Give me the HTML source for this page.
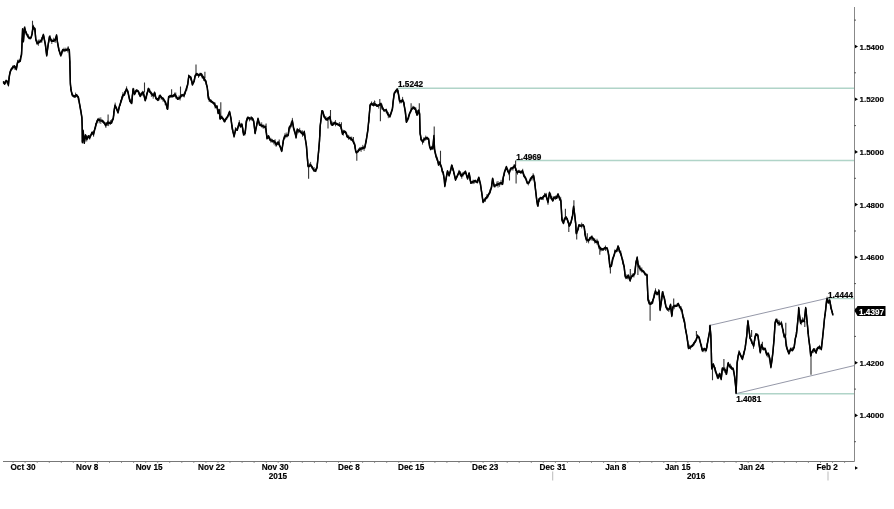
<!DOCTYPE html>
<html><head><meta charset="utf-8"><style>
html,body{margin:0;padding:0;background:#fff;width:894px;height:509px;overflow:hidden}
svg{display:block;will-change:transform}
.yl{font-family:"Liberation Sans",sans-serif;font-size:8px;font-weight:bold;fill:#000;stroke:#000;stroke-width:0.15}
.xl{font-family:"Liberation Sans",sans-serif;font-size:8.2px;font-weight:bold;fill:#000;stroke:#000;stroke-width:0.15}
.an{font-family:"Liberation Sans",sans-serif;font-size:8.2px;font-weight:bold;fill:#000;stroke:#000;stroke-width:0.2}
</style></head><body>
<svg width="894" height="509" viewBox="0 0 894 509">
<rect width="894" height="509" fill="#fff"/>
<!-- axes -->
<rect x="854" y="7" width="1" height="454.5" fill="#888"/>
<rect x="3" y="461" width="851.5" height="1" fill="#777"/>
<path d="M855 44.7 L858 46.5 L855 48.3Z" fill="#000"/><path d="M855 97.4 L858 99.2 L855 101.0Z" fill="#000"/><path d="M855 150.1 L858 151.9 L855 153.7Z" fill="#000"/><path d="M855 202.8 L858 204.6 L855 206.4Z" fill="#000"/><path d="M855 255.5 L858 257.3 L855 259.1Z" fill="#000"/><path d="M855 308.2 L858 310.0 L855 311.8Z" fill="#000"/><path d="M855 360.9 L858 362.7 L855 364.5Z" fill="#000"/><path d="M855 413.6 L858 415.4 L855 417.2Z" fill="#000"/><rect x="854" y="19.6" width="2" height="1" fill="#555"/><rect x="854" y="72.3" width="2" height="1" fill="#555"/><rect x="854" y="125.1" width="2" height="1" fill="#555"/><rect x="854" y="177.8" width="2" height="1" fill="#555"/><rect x="854" y="230.5" width="2" height="1" fill="#555"/><rect x="854" y="283.1" width="2" height="1" fill="#555"/><rect x="854" y="335.9" width="2" height="1" fill="#555"/><rect x="854" y="388.6" width="2" height="1" fill="#555"/><rect x="854" y="441.2" width="2" height="1" fill="#555"/>
<text x="859.5" y="49.5" class="yl">1.5400</text><text x="859.5" y="102.2" class="yl">1.5200</text><text x="859.5" y="154.9" class="yl">1.5000</text><text x="859.5" y="207.6" class="yl">1.4800</text><text x="859.5" y="260.3" class="yl">1.4600</text><text x="859.5" y="365.7" class="yl">1.4200</text><text x="859.5" y="418.4" class="yl">1.4000</text>
<text x="10.5" y="470" class="xl">Oct 30</text><text x="76.0" y="470" class="xl">Nov 8</text><text x="135.7" y="470" class="xl">Nov 15</text><text x="198.0" y="470" class="xl">Nov 22</text><text x="261.7" y="470" class="xl">Nov 30</text><text x="338.0" y="470" class="xl">Dec 8</text><text x="398.0" y="470" class="xl">Dec 15</text><text x="472.0" y="470" class="xl">Dec 23</text><text x="539.6" y="470" class="xl">Dec 31</text><text x="605.3" y="470" class="xl">Jan 8</text><text x="665.0" y="470" class="xl">Jan 15</text><text x="738.8" y="470" class="xl">Jan 24</text><text x="816.4" y="470" class="xl">Feb 2</text><text x="268.8" y="479" class="xl">2015</text><text x="687" y="479" class="xl">2016</text>
<rect x="12.6" y="462" width="1" height="1" fill="#999"/><rect x="24.6" y="462" width="1" height="1" fill="#999"/><rect x="36.7" y="462" width="1" height="1" fill="#999"/><rect x="48.8" y="462" width="1" height="1" fill="#999"/><rect x="60.8" y="462" width="1" height="1" fill="#999"/><rect x="72.8" y="462" width="1" height="1" fill="#999"/><rect x="84.9" y="462" width="1" height="1" fill="#999"/><rect x="97.0" y="462" width="1" height="1" fill="#999"/><rect x="109.0" y="462" width="1" height="1" fill="#999"/><rect x="121.0" y="462" width="1" height="1" fill="#999"/><rect x="133.1" y="462" width="1" height="1" fill="#999"/><rect x="145.2" y="462" width="1" height="1" fill="#999"/><rect x="157.2" y="462" width="1" height="1" fill="#999"/><rect x="169.2" y="462" width="1" height="1" fill="#999"/><rect x="181.3" y="462" width="1" height="1" fill="#999"/><rect x="193.3" y="462" width="1" height="1" fill="#999"/><rect x="205.4" y="462" width="1" height="1" fill="#999"/><rect x="217.5" y="462" width="1" height="1" fill="#999"/><rect x="229.5" y="462" width="1" height="1" fill="#999"/><rect x="241.6" y="462" width="1" height="1" fill="#999"/><rect x="253.6" y="462" width="1" height="1" fill="#999"/><rect x="265.7" y="462" width="1" height="1" fill="#999"/><rect x="277.7" y="462" width="1" height="1" fill="#999"/><rect x="289.8" y="462" width="1" height="1" fill="#999"/><rect x="301.8" y="462" width="1" height="1" fill="#999"/><rect x="313.9" y="462" width="1" height="1" fill="#999"/><rect x="325.9" y="462" width="1" height="1" fill="#999"/><rect x="338.0" y="462" width="1" height="1" fill="#999"/><rect x="350.0" y="462" width="1" height="1" fill="#999"/><rect x="362.1" y="462" width="1" height="1" fill="#999"/><rect x="374.1" y="462" width="1" height="1" fill="#999"/><rect x="386.2" y="462" width="1" height="1" fill="#999"/><rect x="398.2" y="462" width="1" height="1" fill="#999"/><rect x="410.3" y="462" width="1" height="1" fill="#999"/><rect x="422.3" y="462" width="1" height="1" fill="#999"/><rect x="434.4" y="462" width="1" height="1" fill="#999"/><rect x="446.4" y="462" width="1" height="1" fill="#999"/><rect x="458.5" y="462" width="1" height="1" fill="#999"/><rect x="470.5" y="462" width="1" height="1" fill="#999"/><rect x="482.6" y="462" width="1" height="1" fill="#999"/><rect x="494.6" y="462" width="1" height="1" fill="#999"/><rect x="506.7" y="462" width="1" height="1" fill="#999"/><rect x="518.7" y="462" width="1" height="1" fill="#999"/><rect x="530.8" y="462" width="1" height="1" fill="#999"/><rect x="542.8" y="462" width="1" height="1" fill="#999"/><rect x="554.9" y="462" width="1" height="1" fill="#999"/><rect x="566.9" y="462" width="1" height="1" fill="#999"/><rect x="579.0" y="462" width="1" height="1" fill="#999"/><rect x="591.0" y="462" width="1" height="1" fill="#999"/><rect x="603.1" y="462" width="1" height="1" fill="#999"/><rect x="615.1" y="462" width="1" height="1" fill="#999"/><rect x="627.2" y="462" width="1" height="1" fill="#999"/><rect x="639.2" y="462" width="1" height="1" fill="#999"/><rect x="651.3" y="462" width="1" height="1" fill="#999"/><rect x="663.3" y="462" width="1" height="1" fill="#999"/><rect x="675.4" y="462" width="1" height="1" fill="#999"/><rect x="687.4" y="462" width="1" height="1" fill="#999"/><rect x="699.5" y="462" width="1" height="1" fill="#999"/><rect x="711.5" y="462" width="1" height="1" fill="#999"/><rect x="723.6" y="462" width="1" height="1" fill="#999"/><rect x="735.6" y="462" width="1" height="1" fill="#999"/><rect x="747.7" y="462" width="1" height="1" fill="#999"/><rect x="759.7" y="462" width="1" height="1" fill="#999"/><rect x="771.8" y="462" width="1" height="1" fill="#999"/><rect x="783.8" y="462" width="1" height="1" fill="#999"/><rect x="795.9" y="462" width="1" height="1" fill="#999"/><rect x="807.9" y="462" width="1" height="1" fill="#999"/><rect x="820.0" y="462" width="1" height="1" fill="#999"/><rect x="832.0" y="462" width="1" height="1" fill="#999"/><rect x="844.1" y="462" width="1" height="1" fill="#999"/>
<rect x="552.2" y="471.5" width="1" height="9" fill="#bbb"/>
<rect x="827.5" y="471.5" width="1" height="9" fill="#bbb"/>
<path d="M855 466.3 L858 468 L855 469.7Z" fill="#000"/>
<!-- annotations -->
<line x1="398" y1="88.2" x2="854" y2="88.2" stroke="#b0d4c8" stroke-width="1.4"/>
<line x1="516" y1="160.5" x2="854" y2="160.5" stroke="#b0d4c8" stroke-width="1.4"/>
<line x1="736" y1="393.8" x2="854" y2="393.8" stroke="#b0d4c8" stroke-width="1.4"/>
<line x1="828" y1="298.5" x2="854" y2="298.5" stroke="#b0d4c8" stroke-width="1.4"/>
<line x1="709.4" y1="325.5" x2="827.7" y2="298.2" stroke="#9598a8" stroke-width="1"/>
<line x1="709.4" y1="325.5" x2="709.4" y2="332" stroke="#9598a8" stroke-width="1"/>
<line x1="735.4" y1="393.8" x2="854" y2="365.6" stroke="#9598a8" stroke-width="1"/>
<text x="398" y="87" class="an">1.5242</text>
<text x="516.3" y="160" class="an">1.4969</text>
<text x="736.2" y="401.8" class="an">1.4081</text>
<text x="828" y="298" class="an">1.4444</text>
<!-- price -->
<path d="M4.0 81.5V83.9 M5.8 80.8V83.5 M7.2 80.9V83.6 M8.3 82.6V85.1 M9.4 74.4V79.0 M10.5 69.9V73.4 M12.7 65.5V69.3 M14.8 66.1V69.8 M16.2 68.1V69.9 M17.5 59.8V63.7 M19.2 58.8V62.8 M20.9 56.1V57.4 M22.2 37.8V42.0 M23.5 37.6V41.6 M24.9 26.4V31.7 M26.2 30.8V35.0 M28.2 34.1V38.0 M30.4 36.9V39.5 M32.3 31.3V34.1 M33.4 24.8V30.0 M35.1 27.8V32.2 M36.9 40.2V44.6 M38.4 39.6V45.8 M40.0 39.2V42.3 M41.8 37.1V42.9 M43.8 35.6V38.5 M45.6 46.3V48.7 M46.8 53.7V55.2 M48.8 40.3V42.4 M50.2 35.3V39.0 M51.8 38.8V44.0 M53.7 37.7V42.0 M55.2 38.3V42.9 M57.4 40.5V42.5 M58.7 47.5V50.6 M60.4 53.0V54.8 M61.9 50.7V54.5 M64.0 47.7V52.2 M65.8 47.7V50.8 M67.8 46.7V52.5 M69.8 60.5V63.8 M70.9 86.9V90.0 M72.0 92.9V94.9 M73.4 95.3V96.5 M74.6 95.4V97.8 M75.6 92.6V97.9 M76.8 94.2V97.0 M78.2 96.4V100.2 M80.4 106.9V110.7 M81.5 114.6V116.9 M82.9 131.6V135.5 M83.9 135.4V140.7 M85.1 136.0V138.7 M86.7 135.2V141.5 M88.5 135.3V138.1 M89.7 134.9V139.7 M91.7 132.0V134.6 M93.6 130.5V136.8 M95.6 123.2V128.7 M96.9 120.1V123.6 M97.9 118.9V120.8 M99.2 117.6V123.3 M100.8 117.3V123.9 M102.9 120.0V122.7 M104.2 121.8V124.0 M105.9 122.0V128.0 M107.5 120.6V125.8 M108.6 120.6V126.1 M110.5 120.2V124.8 M111.8 119.2V123.4 M113.7 111.2V116.1 M115.2 102.6V108.5 M116.4 107.4V109.2 M118.5 107.5V111.3 M120.5 99.8V105.6 M121.9 96.4V99.4 M122.9 92.1V97.8 M124.6 90.9V95.9 M126.6 86.3V90.3 M127.9 90.5V93.0 M129.6 98.5V101.5 M130.8 98.8V103.4 M132.3 94.8V100.1 M133.8 88.4V93.6 M135.5 90.2V92.8 M137.0 89.6V91.2 M138.9 92.0V94.8 M140.8 92.8V96.4 M142.4 90.8V95.7 M143.6 91.7V95.1 M144.9 96.1V100.8 M146.6 92.7V98.6 M148.1 87.9V92.1 M149.7 88.6V93.0 M151.4 91.7V96.9 M153.2 92.5V98.7 M154.5 91.4V96.7 M156.5 97.9V99.6 M158.0 99.1V101.0 M159.1 95.1V100.4 M161.2 96.2V99.7 M163.0 97.7V101.7 M165.2 100.8V105.2 M166.6 104.1V109.3 M168.6 96.2V98.9 M170.3 94.7V97.3 M171.6 93.6V96.8 M173.3 94.1V96.4 M174.7 92.5V96.8 M175.8 92.5V98.6 M177.9 97.8V99.9 M179.0 95.4V99.5 M180.1 95.6V100.5 M182.1 93.9V96.1 M184.2 92.8V97.5 M185.3 91.2V94.4 M186.8 86.6V90.5 M188.6 74.6V78.2 M190.6 76.7V80.4 M192.2 81.7V85.2 M194.3 79.0V81.1 M195.9 73.7V75.7 M197.1 73.6V75.3 M198.5 73.8V77.9 M199.8 72.8V75.8 M201.3 73.9V75.6 M202.3 73.8V78.6 M203.5 75.7V80.8 M204.6 76.5V81.2 M206.2 80.5V85.0 M207.8 90.4V96.2 M209.2 96.5V102.0 M211.0 99.5V102.7 M212.1 101.1V102.7 M214.0 102.2V104.4 M215.1 102.5V108.5 M216.9 105.2V107.8 M218.2 111.1V113.9 M219.8 114.1V118.7 M221.9 115.5V118.8 M224.1 119.2V122.1 M225.1 118.7V122.2 M226.7 116.8V119.9 M227.7 115.3V117.4 M229.2 112.3V113.4 M230.5 115.2V118.5 M232.2 124.8V129.9 M234.0 132.9V137.6 M235.4 127.1V131.4 M237.3 127.4V130.4 M239.3 120.1V125.5 M241.2 122.8V126.6 M242.8 127.6V132.5 M244.8 130.5V135.6 M246.8 117.6V122.6 M248.1 117.1V118.6 M249.5 117.7V121.4 M251.2 116.0V120.7 M253.0 118.1V120.5 M255.0 129.4V134.1 M256.6 123.0V126.1 M258.5 119.5V121.4 M259.8 122.1V125.8 M261.7 122.3V127.5 M263.2 124.4V128.8 M265.1 124.7V129.4 M266.2 130.5V132.7 M268.1 135.5V139.0 M269.1 136.8V138.7 M270.9 137.8V142.7 M272.3 138.9V142.7 M273.8 140.5V144.4 M275.1 139.2V145.7 M276.1 142.2V146.9 M278.2 141.0V144.1 M279.5 142.1V146.5 M281.2 148.5V151.4 M283.3 139.9V143.7 M284.9 133.3V138.9 M286.2 132.5V137.5 M287.3 134.8V137.3 M288.8 129.3V131.6 M290.2 125.0V129.3 M291.2 121.7V127.4 M292.4 117.9V123.7 M294.4 129.5V132.4 M295.9 133.0V138.6 M297.3 128.1V131.2 M298.4 129.5V133.2 M299.7 127.8V132.3 M301.1 130.3V133.3 M302.5 130.4V136.8 M304.5 130.8V136.3 M306.6 146.3V151.0 M307.7 159.3V163.7 M309.6 163.4V167.1 M310.6 161.9V165.9 M312.2 165.9V168.8 M314.1 167.0V171.6 M315.9 168.6V172.1 M317.3 163.3V165.2 M318.6 148.1V153.2 M319.9 130.0V136.5 M321.4 114.9V116.9 M322.5 110.0V112.3 M323.8 114.2V117.6 M325.9 116.2V120.5 M327.4 117.3V120.9 M328.8 117.3V119.2 M330.9 121.3V124.2 M332.7 121.6V125.7 M334.0 122.1V125.0 M335.5 120.1V126.3 M337.6 123.8V124.9 M339.4 122.0V127.0 M341.1 127.1V129.2 M343.3 129.8V135.7 M345.4 130.9V132.9 M346.6 132.7V137.2 M348.7 134.9V139.9 M350.7 136.7V140.6 M351.7 136.6V140.6 M353.8 140.4V144.1 M355.0 145.1V148.7 M356.8 151.3V152.8 M358.4 148.5V152.3 M359.7 147.2V150.0 M361.1 146.8V151.9 M362.8 144.9V149.8 M364.1 146.4V150.9 M366.0 140.3V142.3 M367.6 129.5V133.7 M368.9 117.0V122.6 M370.1 104.7V106.7 M371.6 101.4V104.9 M373.6 102.0V106.6 M374.8 101.0V105.8 M376.8 104.4V106.8 M378.7 104.0V108.6 M380.3 103.1V105.3 M381.8 103.8V109.5 M383.0 107.2V109.9 M385.2 109.4V111.0 M386.3 108.6V113.3 M388.3 112.2V118.2 M390.4 113.5V116.0 M392.6 104.8V108.1 M394.4 91.8V95.0 M395.7 90.1V91.6 M397.1 88.1V92.9 M398.2 89.8V94.2 M399.7 97.8V103.6 M401.2 100.9V103.4 M402.6 96.9V101.1 M404.1 101.7V105.3 M405.6 111.2V116.8 M406.6 120.8V122.1 M408.7 115.2V119.1 M410.8 109.5V112.3 M412.9 105.8V109.4 M414.8 107.2V109.9 M415.8 107.3V113.2 M417.6 110.2V114.0 M418.8 109.5V114.7 M421.0 137.2V140.0 M422.5 139.5V144.6 M423.7 137.4V142.8 M425.7 135.6V140.6 M427.1 136.6V139.6 M429.0 141.7V143.5 M430.9 147.6V149.5 M432.0 145.8V149.3 M434.2 138.2V144.6 M435.5 153.1V154.6 M437.1 156.5V160.9 M438.4 161.8V165.8 M440.2 161.0V166.6 M442.0 168.7V172.4 M443.3 171.3V175.0 M445.2 182.7V185.0 M446.5 175.6V179.6 M448.2 171.6V174.7 M450.4 169.2V172.3 M452.4 164.9V170.7 M453.5 169.0V173.8 M455.5 176.5V180.3 M456.8 176.0V177.9 M459.0 169.9V175.3 M460.5 171.3V176.1 M461.8 172.8V178.8 M462.9 172.2V176.7 M464.2 171.5V174.0 M465.4 170.6V174.0 M467.2 176.1V177.8 M468.6 172.9V176.4 M469.9 176.7V180.6 M471.6 181.8V183.3 M473.1 179.6V184.1 M474.2 180.2V183.7 M475.7 179.9V182.6 M477.8 179.1V182.6 M479.3 177.7V182.4 M481.4 189.3V191.9 M483.3 200.5V202.1 M485.4 197.2V201.8 M486.9 194.1V199.0 M488.1 194.9V197.5 M489.9 189.3V193.2 M491.6 184.7V188.3 M492.8 178.1V181.4 M494.9 184.9V187.7 M496.9 181.5V185.8 M498.0 181.0V187.6 M499.6 182.9V186.8 M501.1 179.8V185.2 M503.0 178.3V182.1 M504.3 171.5V176.1 M506.3 166.2V168.4 M507.8 168.9V172.5 M508.9 171.4V175.2 M511.0 167.9V170.6 M512.9 167.1V170.7 M514.1 164.2V168.5 M515.8 167.9V171.0 M517.5 170.6V174.7 M519.0 169.8V172.1 M520.8 170.5V173.6 M522.7 168.8V173.4 M523.9 173.7V176.4 M525.1 175.7V178.2 M526.6 179.0V181.6 M528.4 182.0V185.4 M530.3 177.8V180.4 M531.9 175.8V180.7 M533.1 173.2V179.6 M534.9 181.9V185.8 M537.1 200.2V205.4 M539.2 198.2V202.0 M541.3 197.5V199.7 M543.2 196.0V200.1 M544.6 192.9V196.6 M546.2 192.9V197.2 M547.5 198.4V201.8 M548.5 197.6V199.6 M550.7 193.6V199.2 M551.9 196.2V199.8 M553.5 196.6V200.5 M555.6 195.6V199.9 M557.6 194.3V198.5 M559.4 196.2V200.7 M560.7 196.8V202.3 M562.1 217.2V221.7 M563.3 220.0V223.3 M565.3 216.9V220.4 M567.5 217.9V222.5 M568.9 223.9V225.0 M570.0 222.0V226.1 M571.7 216.5V220.4 M572.9 210.1V213.0 M573.9 207.7V210.0 M575.4 219.6V222.9 M577.1 230.4V233.8 M578.6 225.4V229.5 M579.9 224.6V226.3 M581.7 222.6V228.4 M583.2 224.1V225.9 M585.0 231.1V234.8 M586.7 237.9V242.9 M588.6 239.1V243.4 M589.7 236.9V240.6 M591.0 236.9V240.3 M592.0 235.3V240.6 M593.1 237.7V241.1 M594.7 238.2V243.5 M596.0 240.3V243.1 M597.0 238.8V244.6 M598.9 245.7V249.2 M600.8 247.1V251.6 M602.3 248.2V250.1 M603.6 248.4V250.5 M605.5 245.5V250.9 M607.3 247.7V251.1 M608.9 254.4V259.2 M610.2 264.0V269.7 M611.4 262.6V266.2 M612.8 257.7V261.6 M614.9 249.3V253.4 M616.9 248.8V251.5 M619.0 247.1V251.9 M620.8 250.6V255.8 M622.8 259.0V264.5 M624.4 266.0V270.7 M625.7 275.8V279.2 M626.8 274.4V278.5 M627.9 275.4V279.4 M629.3 277.2V278.7 M630.3 277.0V281.9 M632.2 273.4V276.8 M633.9 273.1V277.5 M635.9 260.5V264.3 M637.9 260.6V267.0 M639.0 265.6V267.6 M640.1 265.6V271.4 M641.8 267.4V272.6 M643.2 270.5V272.1 M645.1 272.8V275.3 M646.6 274.2V276.0 M647.9 295.3V299.4 M649.3 299.7V305.0 M651.3 301.1V303.9 M652.8 299.0V303.5 M654.2 293.2V297.8 M655.5 288.3V292.1 M657.5 292.6V294.1 M658.7 289.0V295.0 M659.7 301.2V305.0 M661.7 297.7V300.7 M663.1 291.2V295.4 M665.2 301.6V304.1 M667.1 306.8V309.6 M668.8 308.5V312.0 M670.7 303.6V308.8 M672.1 311.8V315.1 M674.2 305.4V309.2 M675.2 304.8V307.2 M677.3 303.0V306.6 M679.3 304.9V307.9 M681.0 306.1V311.5 M682.8 314.1V317.1 M683.9 317.0V322.4 M685.8 329.8V332.5 M687.8 340.5V343.6 M689.3 344.6V348.9 M690.5 345.7V349.6 M692.6 344.6V346.5 M693.9 342.1V345.5 M695.1 340.3V342.8 M697.2 334.1V337.5 M699.4 337.8V340.2 M701.6 344.4V349.8 M703.1 348.8V352.2 M704.2 347.8V350.5 M705.2 348.0V352.4 M707.1 343.4V347.7 M708.6 335.8V339.0 M710.1 324.8V330.6 M711.6 363.5V368.3 M713.1 363.5V367.3 M715.2 367.1V372.4 M717.2 373.5V378.4 M718.8 374.6V378.4 M719.9 373.0V377.5 M721.7 371.6V375.1 M723.2 367.1V371.2 M724.7 367.1V372.7 M726.0 370.0V375.1 M727.4 365.7V371.0 M728.5 361.9V364.9 M730.4 363.7V368.9 M731.5 365.6V369.9 M733.4 367.6V371.9 M735.4 381.4V385.1 M737.5 359.2V362.8 M739.0 350.1V353.7 M741.2 355.0V357.2 M742.5 356.9V359.1 M744.0 351.0V355.2 M745.4 344.6V347.0 M747.3 325.3V330.6 M748.6 323.6V328.1 M749.8 335.4V339.0 M751.8 339.7V343.9 M753.5 344.3V348.8 M754.9 335.7V340.9 M756.9 333.0V336.2 M758.5 339.3V343.0 M760.0 347.2V351.5 M761.4 343.8V346.8 M762.6 347.0V350.1 M764.0 347.8V350.4 M765.6 348.6V352.7 M767.3 352.5V357.3 M769.4 356.6V360.2 M771.5 360.6V364.3 M773.5 343.7V346.5 M774.5 329.4V335.1 M775.8 320.0V321.8 M777.1 318.6V322.8 M778.2 319.9V325.8 M779.4 320.5V325.8 M781.4 320.9V326.4 M783.3 329.3V333.3 M785.2 333.4V338.1 M786.7 344.2V349.3 M788.0 349.9V352.0 M789.6 351.0V353.5 M790.8 347.4V351.3 M792.4 347.2V350.7 M794.4 343.6V347.5 M796.2 332.2V336.7 M797.7 318.2V322.2 M799.5 312.8V315.7 M801.2 319.5V325.2 M802.6 317.4V322.7 M804.2 318.1V321.8 M806.1 308.8V312.6 M808.1 330.5V334.0 M809.7 343.5V347.3 M811.2 352.1V356.0 M813.2 348.8V353.1 M814.7 348.5V351.7 M816.3 348.2V353.9 M818.3 346.3V349.2 M819.6 344.9V349.5 M821.6 346.2V349.4 M823.6 325.4V328.1 M825.0 314.3V315.9 M827.1 296.7V301.3 M829.1 298.3V303.8 M830.8 304.4V309.3 M832.5 311.0V314.6" fill="none" stroke="#333" stroke-width="0.9"/>
<path d="M32.5 33.9V20.7 M68.4 49.5V46.6 M8.5 82.0V86.5 M82.4 140.0V143.4 M108.1 123.0V114.5 M144.5 92.5V82.4 M171.6 96.0V89.3 M180.5 96.0V86.6 M196.0 74.0V64.4 M204.9 78.0V71.8 M220.8 117.0V102.2 M266.1 127.0V123.5 M279.2 143.0V139.4 M292.4 122.0V119.7 M308.6 166.0V178.8 M328.0 119.0V128.6 M330.5 120.0V110.1 M341.4 125.5V122.3 M353.4 140.0V137.1 M356.8 152.0V160.8 M374.5 104.5V100.6 M379.8 105.0V99.0 M380.4 105.0V121.2 M411.1 109.0V103.2 M419.3 111.0V103.2 M434.2 136.0V126.4 M440.5 163.0V150.8 M509.5 172.0V180.5 M515.6 166.0V160.5 M516.1 172.0V183.6 M548.0 200.0V204.8 M565.4 218.0V208.8 M568.8 225.0V232.1 M573.9 207.0V200.3 M576.7 233.0V239.5 M587.3 239.0V233.2 M597.7 243.0V240.5 M599.8 248.0V254.8 M610.4 266.0V273.4 M630.3 277.0V269.1 M637.9 264.0V274.9 M650.1 303.0V320.8 M673.7 306.0V298.5 M696.4 336.0V331.1 M712.5 365.0V380.2 M723.9 368.0V359.0 M751.6 337.0V330.0 M762.4 346.0V341.8 M785.8 335.5V322.8 M804.8 321.0V327.0 M811.0 355.0V374.7" fill="none" stroke="#333" stroke-width="1.1"/>
<g fill="none" stroke="#000" stroke-width="1.4" stroke-linejoin="round" stroke-linecap="round"><path d="M3.5 82.3 L4.7 83.8 L6.1 80.8 L7.5 81.8 L8.4 84.8 L9.2 77.1 L10.1 72.0 L11.3 69.3 L13.2 67.0 L14.4 66.2 L15.4 67.5 L16.3 69.3 L17.5 62.7 L18.9 61.3 L20.3 60.8 L20.8 57.1 L21.5 54.7 L22.0 44.0 L22.6 29.1 L23.4 41.4 L24.5 27.7 L25.5 31.5 L27.3 35.3 L29.2 38.1 L31.1 37.6 L32.1 33.9 L33.0 26.8 L34.9 29.1 L35.8 39.5 L37.2 43.3 L39.6 41.9 L41.5 40.5 L43.4 34.8 L45.3 44.2 L46.7 55.5 L48.1 45.2 L49.5 36.7 L51.4 40.9 L53.3 40.9 L55.2 40.0 L56.6 35.3 L57.5 42.3 L58.9 49.9 L60.8 55.5 L62.7 49.9 L65.1 50.4 L67.9 49.4 L69.3 49.9 L69.8 62.0 L70.4 84.0 L71.0 90.0 L72.3 95.1 L74.1 96.5 L76.5 95.1 L78.4 97.4 L79.3 102.6 L80.7 110.2 L81.9 117.7 L82.2 126.9 L82.4 141.9 L83.1 130.6 L84.3 142.9 L85.5 135.3 L86.9 139.1 L88.3 136.3 L89.7 137.7 L92.1 132.5 L93.5 134.4 L94.9 128.7 L96.3 123.5 L97.9 119.5 L100.0 120.4 L102.2 120.8 L104.3 123.0 L105.7 125.5 L107.1 123.0 L109.0 123.0 L111.4 122.8 L113.3 118.4 L114.2 110.0 L115.0 105.5 L116.1 107.5 L118.0 112.5 L119.4 106.4 L121.3 100.7 L122.7 95.6 L124.6 94.1 L126.5 89.0 L127.9 91.8 L129.8 100.7 L131.7 103.1 L133.1 89.0 L134.5 94.1 L136.4 90.4 L138.3 91.3 L140.1 96.0 L142.0 93.2 L143.2 92.5 L145.3 100.4 L146.9 94.1 L148.5 88.8 L150.1 91.9 L151.7 94.1 L153.3 95.6 L154.8 93.0 L155.9 98.3 L158.0 99.9 L160.1 95.6 L161.7 97.8 L163.3 98.8 L165.5 102.5 L167.6 108.9 L168.6 97.2 L170.2 96.2 L172.9 96.2 L175.0 94.6 L177.6 98.8 L179.8 97.8 L181.9 95.1 L184.0 95.6 L186.1 89.8 L187.7 84.5 L188.8 76.0 L190.9 77.6 L192.5 84.5 L194.1 81.3 L195.1 76.0 L196.7 73.9 L198.9 75.5 L201.0 73.9 L202.6 77.1 L203.6 77.6 L205.7 81.3 L207.3 87.7 L208.4 98.3 L210.0 100.4 L212.1 102.0 L214.2 103.6 L215.8 107.0 L217.0 106.5 L218.2 113.0 L219.2 110.0 L220.1 118.7 L221.4 117.1 L223.0 118.7 L224.5 121.3 L226.1 118.7 L227.7 116.6 L229.6 111.8 L230.9 118.1 L232.0 126.6 L233.0 131.9 L234.1 136.2 L235.7 129.3 L237.3 129.8 L239.2 122.9 L240.5 126.6 L242.0 124.5 L243.6 134.6 L245.2 133.0 L246.3 121.3 L247.9 117.6 L250.0 118.7 L252.1 118.1 L253.7 121.3 L255.1 133.0 L256.4 126.6 L258.0 118.7 L259.5 124.5 L261.7 125.6 L263.8 126.6 L265.7 127.2 L267.0 138.3 L268.6 136.2 L270.1 139.9 L272.3 140.9 L274.4 141.5 L276.5 144.7 L278.1 142.5 L280.2 146.8 L281.8 151.0 L283.4 140.4 L284.5 136.7 L286.1 135.6 L288.2 135.1 L289.2 127.7 L290.8 125.6 L292.4 121.0 L293.5 127.7 L295.1 133.0 L296.1 137.2 L297.2 129.8 L299.5 130.8 L301.7 132.9 L303.3 134.5 L304.3 131.8 L305.0 137.0 L306.4 145.7 L307.5 159.7 L308.0 166.1 L309.1 166.1 L310.7 165.0 L312.3 167.6 L313.9 170.3 L315.5 170.8 L317.0 167.6 L317.6 161.8 L318.6 151.2 L319.5 140.6 L320.2 126.0 L321.3 117.0 L321.8 111.1 L322.9 111.7 L323.9 115.9 L325.5 118.6 L327.1 119.6 L328.7 118.0 L329.8 117.0 L331.4 124.4 L332.4 124.9 L334.5 122.8 L336.7 123.9 L338.8 124.9 L340.7 125.5 L342.5 133.9 L344.1 131.3 L345.7 132.3 L347.3 136.6 L348.9 137.6 L351.0 138.7 L352.6 140.3 L354.7 144.6 L355.7 151.2 L356.3 152.5 L357.9 151.2 L359.5 149.6 L361.1 148.6 L363.2 147.8 L364.8 147.5 L366.4 139.5 L367.9 129.7 L369.0 118.0 L370.1 105.3 L371.4 103.7 L373.0 104.8 L375.1 104.3 L377.2 105.9 L378.8 105.3 L380.9 103.7 L382.5 108.0 L384.1 110.6 L386.2 110.1 L387.8 114.3 L389.9 116.5 L391.0 113.3 L392.4 109.0 L393.1 102.1 L394.2 93.7 L395.8 91.0 L397.3 89.4 L398.4 93.7 L399.5 100.6 L401.1 101.6 L402.6 100.0 L403.7 102.7 L405.3 111.7 L406.4 121.8 L407.9 119.1 L409.5 113.8 L411.7 109.0 L413.8 107.5 L415.7 109.6 L417.0 114.9 L418.6 110.6 L419.6 113.8 L420.1 133.5 L420.6 135.9 L421.1 139.6 L422.7 141.7 L424.8 138.6 L427.0 138.0 L428.6 139.1 L429.6 146.5 L430.7 149.2 L431.7 147.6 L432.8 148.6 L433.9 136.0 L434.6 150.0 L436.2 157.0 L437.6 160.3 L438.6 164.5 L439.7 162.4 L441.3 166.7 L442.3 170.9 L443.3 173.3 L444.3 179.7 L444.8 186.1 L445.9 179.7 L447.5 171.2 L449.1 175.5 L450.7 170.1 L451.7 165.4 L453.3 170.1 L455.5 179.7 L457.0 176.5 L459.2 171.7 L461.3 176.0 L463.4 173.9 L465.5 171.7 L467.6 178.6 L469.2 173.3 L470.8 182.9 L472.9 181.8 L475.1 180.8 L477.2 182.3 L478.8 177.6 L480.4 183.9 L482.0 194.5 L483.0 202.0 L485.1 199.3 L487.3 196.7 L489.9 192.4 L491.5 187.1 L492.6 178.6 L494.2 186.1 L496.3 185.0 L498.9 183.9 L501.0 182.9 L502.6 183.9 L503.2 177.6 L504.8 171.2 L506.4 167.0 L507.9 171.2 L509.2 173.0 L510.6 168.6 L512.7 168.0 L514.8 165.6 L516.1 170.4 L517.2 172.5 L518.8 171.4 L520.9 172.5 L522.5 170.9 L524.1 176.2 L525.7 178.3 L527.3 183.1 L528.9 182.6 L531.0 178.3 L533.6 175.7 L534.7 182.6 L535.8 192.1 L536.8 200.6 L537.9 205.9 L538.9 199.5 L540.5 197.9 L542.1 198.5 L543.7 196.4 L545.8 194.8 L546.9 198.5 L548.0 202.0 L549.5 192.6 L551.1 197.4 L552.7 200.6 L554.3 197.4 L556.4 197.9 L558.0 194.2 L559.6 198.5 L560.8 200.3 L561.4 209.8 L561.9 219.4 L563.5 223.1 L564.5 218.9 L566.1 217.3 L567.7 220.5 L569.3 225.8 L570.9 222.6 L572.5 216.2 L573.6 206.7 L574.6 214.1 L575.7 223.6 L576.2 233.2 L577.8 230.0 L578.9 225.2 L581.0 225.8 L583.1 225.2 L584.2 226.8 L585.2 235.3 L586.3 239.5 L588.4 240.6 L590.0 238.5 L591.6 236.9 L593.7 239.5 L595.8 241.7 L597.9 242.0 L598.7 246.0 L600.8 249.0 L603.0 249.5 L605.1 247.9 L607.2 248.4 L608.3 252.7 L609.3 260.6 L609.8 266.5 L611.4 265.9 L612.5 259.6 L614.1 255.3 L615.1 251.1 L616.7 251.1 L618.1 246.3 L619.4 250.6 L621.0 254.3 L622.6 260.6 L624.2 267.0 L625.2 276.5 L626.8 277.6 L628.4 275.5 L630.0 280.3 L631.6 276.5 L633.7 274.9 L634.8 273.4 L635.8 263.8 L637.2 257.5 L637.9 263.8 L639.5 268.0 L641.7 270.2 L643.8 271.8 L645.4 274.4 L647.0 274.9 L647.4 285.8 L648.0 299.6 L649.0 302.8 L650.6 303.8 L652.2 302.8 L653.8 297.5 L655.4 291.1 L657.0 294.3 L659.1 291.1 L660.1 310.0 L661.2 302.8 L662.5 292.1 L664.4 298.5 L666.0 307.0 L667.6 309.6 L669.2 309.1 L670.5 304.9 L671.8 316.0 L672.9 307.0 L674.5 305.9 L676.6 305.9 L678.2 303.8 L679.8 307.0 L681.9 310.2 L682.9 316.5 L684.5 321.8 L685.3 327.9 L686.9 336.4 L688.5 348.1 L690.6 347.0 L692.7 345.4 L694.3 342.8 L695.9 340.6 L697.5 335.9 L699.1 337.5 L700.7 343.8 L702.4 350.5 L704.2 348.9 L706.2 350.3 L708.1 339.6 L709.7 331.1 L710.0 326.0 L710.8 335.3 L711.3 350.0 L711.7 368.5 L713.3 364.3 L714.8 368.5 L716.4 373.8 L718.0 378.1 L719.6 373.8 L721.2 379.1 L722.3 368.5 L724.9 369.6 L726.5 373.8 L728.1 363.2 L729.7 366.4 L731.8 368.0 L733.4 369.6 L734.5 375.9 L735.5 384.4 L736.1 392.9 L736.6 379.1 L737.1 363.2 L738.2 355.8 L739.2 352.1 L740.8 355.8 L742.4 359.0 L743.5 354.7 L745.1 348.4 L745.7 343.8 L746.8 335.3 L747.9 321.0 L748.9 329.0 L750.0 337.5 L752.1 342.8 L753.7 345.9 L754.8 338.5 L755.8 334.3 L757.9 335.3 L759.2 345.0 L760.3 352.4 L761.4 345.0 L763.5 349.2 L765.1 348.7 L766.7 354.5 L768.3 353.5 L769.8 358.8 L770.9 367.2 L772.0 359.8 L773.0 351.3 L774.1 338.6 L775.1 322.8 L776.2 319.6 L777.8 322.8 L779.9 323.8 L781.5 323.3 L783.1 331.2 L784.2 336.5 L785.2 335.4 L786.3 346.0 L787.3 349.2 L788.9 353.5 L790.5 349.2 L792.6 350.3 L794.2 347.1 L795.3 338.6 L796.4 334.4 L797.4 324.9 L798.5 313.2 L798.7 307.9 L799.5 315.3 L800.6 322.8 L802.2 320.6 L804.3 321.2 L805.7 307.9 L806.4 314.3 L807.5 325.9 L808.6 337.5 L810.1 349.2 L810.7 355.6 L811.7 352.4 L813.9 349.2 L816.0 352.4 L817.6 348.1 L819.7 347.1 L821.3 349.2 L822.3 340.7 L823.4 330.0 L824.5 318.5 L825.5 311.1 L826.6 300.5 L827.1 298.9 L828.2 302.6 L829.8 300.5 L830.8 306.8 L832.4 313.2 L832.9 314.5" transform="translate(0,-0.5)"/><path d="M3.5 82.3 L4.7 83.8 L6.1 80.8 L7.5 81.8 L8.4 84.8 L9.2 77.1 L10.1 72.0 L11.3 69.3 L13.2 67.0 L14.4 66.2 L15.4 67.5 L16.3 69.3 L17.5 62.7 L18.9 61.3 L20.3 60.8 L20.8 57.1 L21.5 54.7 L22.0 44.0 L22.6 29.1 L23.4 41.4 L24.5 27.7 L25.5 31.5 L27.3 35.3 L29.2 38.1 L31.1 37.6 L32.1 33.9 L33.0 26.8 L34.9 29.1 L35.8 39.5 L37.2 43.3 L39.6 41.9 L41.5 40.5 L43.4 34.8 L45.3 44.2 L46.7 55.5 L48.1 45.2 L49.5 36.7 L51.4 40.9 L53.3 40.9 L55.2 40.0 L56.6 35.3 L57.5 42.3 L58.9 49.9 L60.8 55.5 L62.7 49.9 L65.1 50.4 L67.9 49.4 L69.3 49.9 L69.8 62.0 L70.4 84.0 L71.0 90.0 L72.3 95.1 L74.1 96.5 L76.5 95.1 L78.4 97.4 L79.3 102.6 L80.7 110.2 L81.9 117.7 L82.2 126.9 L82.4 141.9 L83.1 130.6 L84.3 142.9 L85.5 135.3 L86.9 139.1 L88.3 136.3 L89.7 137.7 L92.1 132.5 L93.5 134.4 L94.9 128.7 L96.3 123.5 L97.9 119.5 L100.0 120.4 L102.2 120.8 L104.3 123.0 L105.7 125.5 L107.1 123.0 L109.0 123.0 L111.4 122.8 L113.3 118.4 L114.2 110.0 L115.0 105.5 L116.1 107.5 L118.0 112.5 L119.4 106.4 L121.3 100.7 L122.7 95.6 L124.6 94.1 L126.5 89.0 L127.9 91.8 L129.8 100.7 L131.7 103.1 L133.1 89.0 L134.5 94.1 L136.4 90.4 L138.3 91.3 L140.1 96.0 L142.0 93.2 L143.2 92.5 L145.3 100.4 L146.9 94.1 L148.5 88.8 L150.1 91.9 L151.7 94.1 L153.3 95.6 L154.8 93.0 L155.9 98.3 L158.0 99.9 L160.1 95.6 L161.7 97.8 L163.3 98.8 L165.5 102.5 L167.6 108.9 L168.6 97.2 L170.2 96.2 L172.9 96.2 L175.0 94.6 L177.6 98.8 L179.8 97.8 L181.9 95.1 L184.0 95.6 L186.1 89.8 L187.7 84.5 L188.8 76.0 L190.9 77.6 L192.5 84.5 L194.1 81.3 L195.1 76.0 L196.7 73.9 L198.9 75.5 L201.0 73.9 L202.6 77.1 L203.6 77.6 L205.7 81.3 L207.3 87.7 L208.4 98.3 L210.0 100.4 L212.1 102.0 L214.2 103.6 L215.8 107.0 L217.0 106.5 L218.2 113.0 L219.2 110.0 L220.1 118.7 L221.4 117.1 L223.0 118.7 L224.5 121.3 L226.1 118.7 L227.7 116.6 L229.6 111.8 L230.9 118.1 L232.0 126.6 L233.0 131.9 L234.1 136.2 L235.7 129.3 L237.3 129.8 L239.2 122.9 L240.5 126.6 L242.0 124.5 L243.6 134.6 L245.2 133.0 L246.3 121.3 L247.9 117.6 L250.0 118.7 L252.1 118.1 L253.7 121.3 L255.1 133.0 L256.4 126.6 L258.0 118.7 L259.5 124.5 L261.7 125.6 L263.8 126.6 L265.7 127.2 L267.0 138.3 L268.6 136.2 L270.1 139.9 L272.3 140.9 L274.4 141.5 L276.5 144.7 L278.1 142.5 L280.2 146.8 L281.8 151.0 L283.4 140.4 L284.5 136.7 L286.1 135.6 L288.2 135.1 L289.2 127.7 L290.8 125.6 L292.4 121.0 L293.5 127.7 L295.1 133.0 L296.1 137.2 L297.2 129.8 L299.5 130.8 L301.7 132.9 L303.3 134.5 L304.3 131.8 L305.0 137.0 L306.4 145.7 L307.5 159.7 L308.0 166.1 L309.1 166.1 L310.7 165.0 L312.3 167.6 L313.9 170.3 L315.5 170.8 L317.0 167.6 L317.6 161.8 L318.6 151.2 L319.5 140.6 L320.2 126.0 L321.3 117.0 L321.8 111.1 L322.9 111.7 L323.9 115.9 L325.5 118.6 L327.1 119.6 L328.7 118.0 L329.8 117.0 L331.4 124.4 L332.4 124.9 L334.5 122.8 L336.7 123.9 L338.8 124.9 L340.7 125.5 L342.5 133.9 L344.1 131.3 L345.7 132.3 L347.3 136.6 L348.9 137.6 L351.0 138.7 L352.6 140.3 L354.7 144.6 L355.7 151.2 L356.3 152.5 L357.9 151.2 L359.5 149.6 L361.1 148.6 L363.2 147.8 L364.8 147.5 L366.4 139.5 L367.9 129.7 L369.0 118.0 L370.1 105.3 L371.4 103.7 L373.0 104.8 L375.1 104.3 L377.2 105.9 L378.8 105.3 L380.9 103.7 L382.5 108.0 L384.1 110.6 L386.2 110.1 L387.8 114.3 L389.9 116.5 L391.0 113.3 L392.4 109.0 L393.1 102.1 L394.2 93.7 L395.8 91.0 L397.3 89.4 L398.4 93.7 L399.5 100.6 L401.1 101.6 L402.6 100.0 L403.7 102.7 L405.3 111.7 L406.4 121.8 L407.9 119.1 L409.5 113.8 L411.7 109.0 L413.8 107.5 L415.7 109.6 L417.0 114.9 L418.6 110.6 L419.6 113.8 L420.1 133.5 L420.6 135.9 L421.1 139.6 L422.7 141.7 L424.8 138.6 L427.0 138.0 L428.6 139.1 L429.6 146.5 L430.7 149.2 L431.7 147.6 L432.8 148.6 L433.9 136.0 L434.6 150.0 L436.2 157.0 L437.6 160.3 L438.6 164.5 L439.7 162.4 L441.3 166.7 L442.3 170.9 L443.3 173.3 L444.3 179.7 L444.8 186.1 L445.9 179.7 L447.5 171.2 L449.1 175.5 L450.7 170.1 L451.7 165.4 L453.3 170.1 L455.5 179.7 L457.0 176.5 L459.2 171.7 L461.3 176.0 L463.4 173.9 L465.5 171.7 L467.6 178.6 L469.2 173.3 L470.8 182.9 L472.9 181.8 L475.1 180.8 L477.2 182.3 L478.8 177.6 L480.4 183.9 L482.0 194.5 L483.0 202.0 L485.1 199.3 L487.3 196.7 L489.9 192.4 L491.5 187.1 L492.6 178.6 L494.2 186.1 L496.3 185.0 L498.9 183.9 L501.0 182.9 L502.6 183.9 L503.2 177.6 L504.8 171.2 L506.4 167.0 L507.9 171.2 L509.2 173.0 L510.6 168.6 L512.7 168.0 L514.8 165.6 L516.1 170.4 L517.2 172.5 L518.8 171.4 L520.9 172.5 L522.5 170.9 L524.1 176.2 L525.7 178.3 L527.3 183.1 L528.9 182.6 L531.0 178.3 L533.6 175.7 L534.7 182.6 L535.8 192.1 L536.8 200.6 L537.9 205.9 L538.9 199.5 L540.5 197.9 L542.1 198.5 L543.7 196.4 L545.8 194.8 L546.9 198.5 L548.0 202.0 L549.5 192.6 L551.1 197.4 L552.7 200.6 L554.3 197.4 L556.4 197.9 L558.0 194.2 L559.6 198.5 L560.8 200.3 L561.4 209.8 L561.9 219.4 L563.5 223.1 L564.5 218.9 L566.1 217.3 L567.7 220.5 L569.3 225.8 L570.9 222.6 L572.5 216.2 L573.6 206.7 L574.6 214.1 L575.7 223.6 L576.2 233.2 L577.8 230.0 L578.9 225.2 L581.0 225.8 L583.1 225.2 L584.2 226.8 L585.2 235.3 L586.3 239.5 L588.4 240.6 L590.0 238.5 L591.6 236.9 L593.7 239.5 L595.8 241.7 L597.9 242.0 L598.7 246.0 L600.8 249.0 L603.0 249.5 L605.1 247.9 L607.2 248.4 L608.3 252.7 L609.3 260.6 L609.8 266.5 L611.4 265.9 L612.5 259.6 L614.1 255.3 L615.1 251.1 L616.7 251.1 L618.1 246.3 L619.4 250.6 L621.0 254.3 L622.6 260.6 L624.2 267.0 L625.2 276.5 L626.8 277.6 L628.4 275.5 L630.0 280.3 L631.6 276.5 L633.7 274.9 L634.8 273.4 L635.8 263.8 L637.2 257.5 L637.9 263.8 L639.5 268.0 L641.7 270.2 L643.8 271.8 L645.4 274.4 L647.0 274.9 L647.4 285.8 L648.0 299.6 L649.0 302.8 L650.6 303.8 L652.2 302.8 L653.8 297.5 L655.4 291.1 L657.0 294.3 L659.1 291.1 L660.1 310.0 L661.2 302.8 L662.5 292.1 L664.4 298.5 L666.0 307.0 L667.6 309.6 L669.2 309.1 L670.5 304.9 L671.8 316.0 L672.9 307.0 L674.5 305.9 L676.6 305.9 L678.2 303.8 L679.8 307.0 L681.9 310.2 L682.9 316.5 L684.5 321.8 L685.3 327.9 L686.9 336.4 L688.5 348.1 L690.6 347.0 L692.7 345.4 L694.3 342.8 L695.9 340.6 L697.5 335.9 L699.1 337.5 L700.7 343.8 L702.4 350.5 L704.2 348.9 L706.2 350.3 L708.1 339.6 L709.7 331.1 L710.0 326.0 L710.8 335.3 L711.3 350.0 L711.7 368.5 L713.3 364.3 L714.8 368.5 L716.4 373.8 L718.0 378.1 L719.6 373.8 L721.2 379.1 L722.3 368.5 L724.9 369.6 L726.5 373.8 L728.1 363.2 L729.7 366.4 L731.8 368.0 L733.4 369.6 L734.5 375.9 L735.5 384.4 L736.1 392.9 L736.6 379.1 L737.1 363.2 L738.2 355.8 L739.2 352.1 L740.8 355.8 L742.4 359.0 L743.5 354.7 L745.1 348.4 L745.7 343.8 L746.8 335.3 L747.9 321.0 L748.9 329.0 L750.0 337.5 L752.1 342.8 L753.7 345.9 L754.8 338.5 L755.8 334.3 L757.9 335.3 L759.2 345.0 L760.3 352.4 L761.4 345.0 L763.5 349.2 L765.1 348.7 L766.7 354.5 L768.3 353.5 L769.8 358.8 L770.9 367.2 L772.0 359.8 L773.0 351.3 L774.1 338.6 L775.1 322.8 L776.2 319.6 L777.8 322.8 L779.9 323.8 L781.5 323.3 L783.1 331.2 L784.2 336.5 L785.2 335.4 L786.3 346.0 L787.3 349.2 L788.9 353.5 L790.5 349.2 L792.6 350.3 L794.2 347.1 L795.3 338.6 L796.4 334.4 L797.4 324.9 L798.5 313.2 L798.7 307.9 L799.5 315.3 L800.6 322.8 L802.2 320.6 L804.3 321.2 L805.7 307.9 L806.4 314.3 L807.5 325.9 L808.6 337.5 L810.1 349.2 L810.7 355.6 L811.7 352.4 L813.9 349.2 L816.0 352.4 L817.6 348.1 L819.7 347.1 L821.3 349.2 L822.3 340.7 L823.4 330.0 L824.5 318.5 L825.5 311.1 L826.6 300.5 L827.1 298.9 L828.2 302.6 L829.8 300.5 L830.8 306.8 L832.4 313.2 L832.9 314.5" transform="translate(0,0.5)"/></g>
<!-- last price label -->
<path d="M854.5 310.8 L857.5 306 L885.5 306 L885.5 316 L857.5 316Z" fill="#000"/>
<text x="859" y="314.5" class="an" style="fill:#fff;stroke:#fff;stroke-width:0.1">1.4397</text>
</svg>
</body></html>
